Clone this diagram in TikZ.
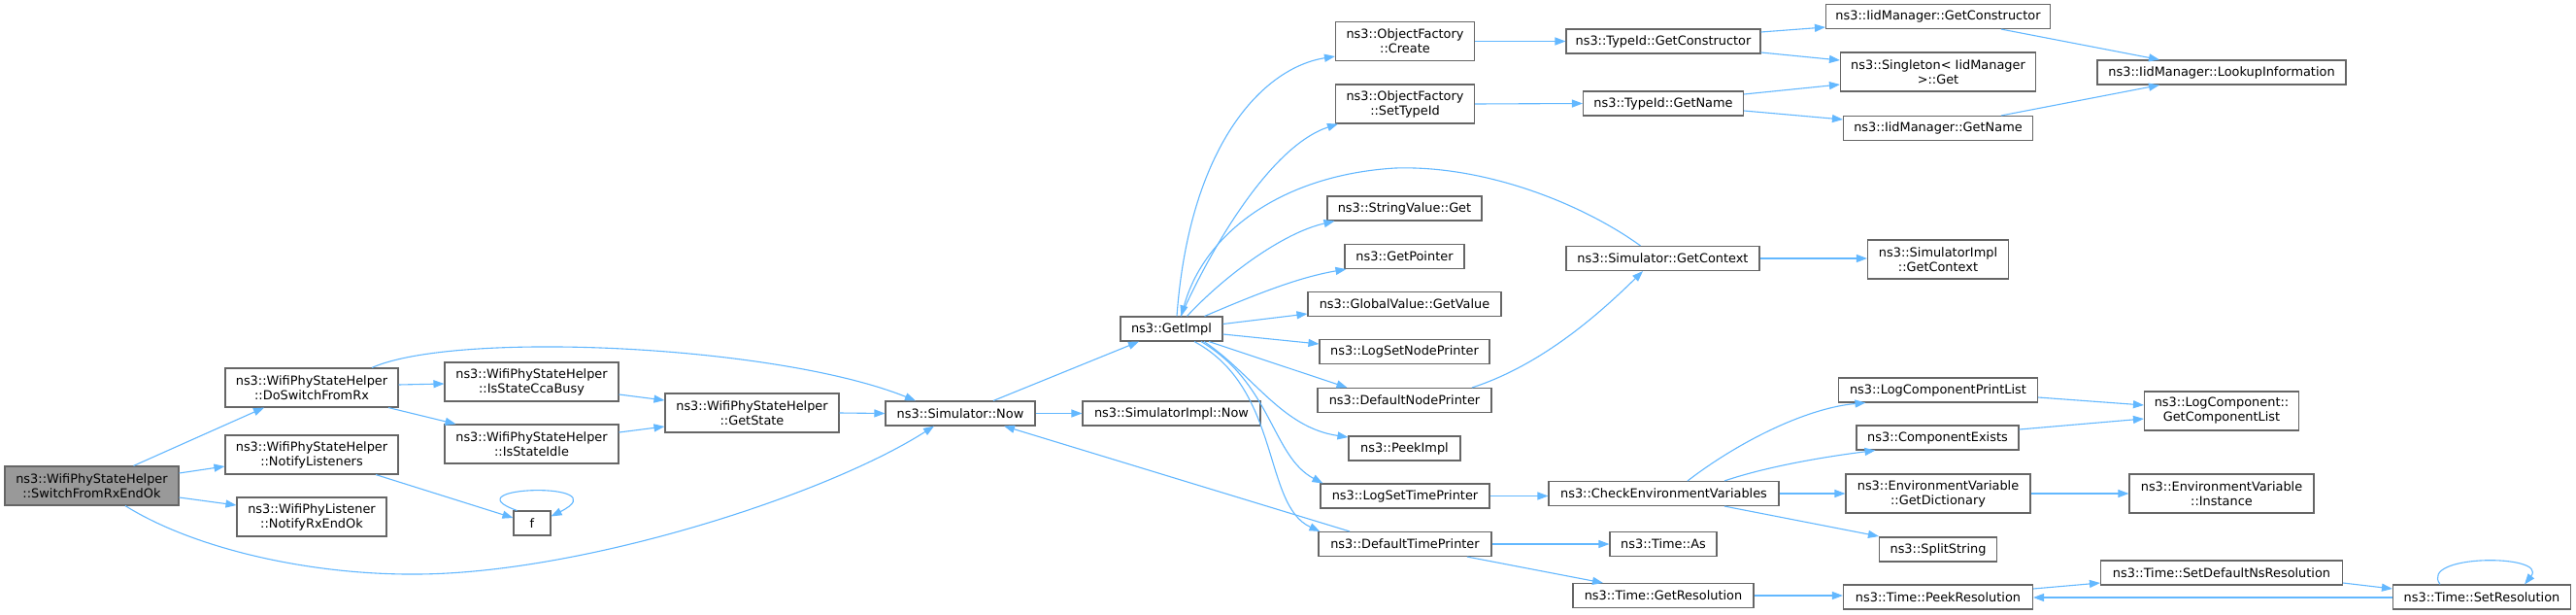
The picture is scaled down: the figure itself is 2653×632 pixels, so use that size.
\documentclass[tikz,border=0pt]{standalone}
\usepackage{fontspec}
\setmainfont{DejaVu Sans}
\usetikzlibrary{arrows.meta}
\definecolor{edgeblue}{HTML}{63B8FF}
\definecolor{bordergray}{HTML}{666666}
\definecolor{rootgray}{HTML}{999999}
\newcommand{\nodefont}{\fontsize{12.9}{15}\selectfont}
\tikzset{
  nd/.style={draw=bordergray, fill=white, line width=1.1pt, inner sep=0pt, align=center, font=\nodefont},
  one/.style={minimum height=25},
  two/.style={minimum height=40},
  edge/.style={draw=edgeblue, line width=1.1pt, -{Triangle[length=11pt,width=8pt]}}
}
\begin{document}
\begin{tikzpicture}[x=1pt,y=-1pt]
\useasboundingbox (0,0) rectangle (2653,632);
\fill[white] (0,0) rectangle (2653,632);
% nodes
\node[nd,two,minimum width=179,fill=rootgray] (root) at (94.5,500) {ns3::WifiPhyStateHelper\\::SwitchFromRxEndOk};
\node[nd,two,minimum width=178] (doswitch) at (321,399) {ns3::WifiPhyStateHelper\\::DoSwitchFromRx};
\node[nd,two,minimum width=178] (notifyL) at (321,468) {ns3::WifiPhyStateHelper\\::NotifyListeners};
\node[nd,two,minimum width=154] (notifyRx) at (321,532) {ns3::WifiPhyListener\\::NotifyRxEndOk};
\node[nd,two,minimum width=179] (cca) at (547.5,393) {ns3::WifiPhyStateHelper\\::IsStateCcaBusy};
\node[nd,two,minimum width=179] (idle) at (547.5,457) {ns3::WifiPhyStateHelper\\::IsStateIdle};
\node[nd,one,minimum width=38] (f) at (548,538.5) {f};
\node[nd,two,minimum width=179] (getstate) at (774.5,425) {ns3::WifiPhyStateHelper\\::GetState};
\node[nd,one,minimum width=154] (now) at (989,425.5) {ns3::Simulator::Now};
\node[nd,one,minimum width=183] (simimplnow) at (1206.5,425.5) {ns3::SimulatorImpl::Now};
\node[nd,one,minimum width=105] (getimpl) at (1206.5,338.5) {ns3::GetImpl};
\node[nd,two,minimum width=143] (create) at (1447,42.5) {ns3::ObjectFactory\\::Create};
\node[nd,two,minimum width=143] (settypeid) at (1447,107) {ns3::ObjectFactory\\::SetTypeId};
\node[nd,one,minimum width=159] (stringget) at (1446.5,214.5) {ns3::StringValue::Get};
\node[nd,one,minimum width=123] (getpointer) at (1446.5,264) {ns3::GetPointer};
\node[nd,one,minimum width=199] (globalvalue) at (1446.5,313) {ns3::GlobalValue::GetValue};
\node[nd,one,minimum width=175] (lognode) at (1446.5,362) {ns3::LogSetNodePrinter};
\node[nd,one,minimum width=179] (defnode) at (1446.5,412) {ns3::DefaultNodePrinter};
\node[nd,one,minimum width=115] (peekimpl) at (1446.5,461.5) {ns3::PeekImpl};
\node[nd,one,minimum width=174] (logtime) at (1447,510.5) {ns3::LogSetTimePrinter};
\node[nd,one,minimum width=178] (deftime) at (1447,560) {ns3::DefaultTimePrinter};
\node[nd,one,minimum width=200] (tidctor) at (1713,42.5) {ns3::TypeId::GetConstructor};
\node[nd,one,minimum width=165] (tidname) at (1713,106.5) {ns3::TypeId::GetName};
\node[nd,one,minimum width=199] (getcontext) at (1712.5,266) {ns3::Simulator::GetContext};
\node[nd,one,minimum width=237] (checkenv) at (1713.5,508) {ns3::CheckEnvironmentVariables};
\node[nd,one,minimum width=110] (timeas) at (1713,560) {ns3::Time::As};
\node[nd,one,minimum width=186] (getres) at (1713,613) {ns3::Time::GetResolution};
\node[nd,one,minimum width=231] (iidctor) at (1996,17) {ns3::IidManager::GetConstructor};
\node[nd,two,minimum width=201] (singleton) at (1996,74) {ns3::Singleton< IidManager\\ >::Get};
\node[nd,one,minimum width=195] (iidname) at (1996,132) {ns3::IidManager::GetName};
\node[nd,one,minimum width=256] (lookup) at (2288,74.5) {ns3::IidManager::LookupInformation};
\node[nd,two,minimum width=145] (simimplctx) at (1996,267) {ns3::SimulatorImpl\\::GetContext};
\node[nd,one,minimum width=205] (logprint) at (1996,401.5) {ns3::LogComponentPrintList};
\node[nd,one,minimum width=167] (compexists) at (1995.5,450.5) {ns3::ComponentExists};
\node[nd,two,minimum width=190] (getdict) at (1996,508) {ns3::EnvironmentVariable\\::GetDictionary};
\node[nd,one,minimum width=121] (splitstring) at (1996,565.5) {ns3::SplitString};
\node[nd,one,minimum width=195] (peekres) at (1996,614.5) {ns3::Time::PeekResolution};
\node[nd,two,minimum width=159] (getcomplist) at (2288,423) {ns3::LogComponent::\\GetComponentList};
\node[nd,two,minimum width=190] (envinstance) at (2288,508) {ns3::EnvironmentVariable\\::Instance};
\node[nd,one,minimum width=249] (setdefns) at (2288,589.5) {ns3::Time::SetDefaultNsResolution};
\node[nd,one,minimum width=183] (setres) at (2556,614.5) {ns3::Time::SetResolution};
% edges
\draw[edge] ([xshift=43]root.north) -- ([xshift=-49]doswitch.south);
\draw[edge] ([yshift=13]root.east) -- ([yshift=-12]notifyL.west);
\draw[edge] ([yshift=-12]root.east) -- ([yshift=12]notifyRx.west);
\draw[edge] ([xshift=34.5]root.south) .. controls (200,565) and (320,592) .. (430,591) .. controls (600,590) and (850,510) .. ([xshift=-27]now.south);
\draw[edge] ([yshift=3]doswitch.east) -- ([yshift=-2]cca.west);
\draw[edge] ([xshift=79]doswitch.south) -- ([xshift=-78]idle.north);
\draw[edge] ([xshift=62]doswitch.north) .. controls (470,340) and (800,355) .. ([xshift=-46]now.north);
\draw[edge] ([xshift=66]notifyL.south) -- ([yshift=5.5]f.west);
\draw[edge] ([xshift=4]f.north west) .. controls (460,500) and (640,495) .. ([yshift=-6]f.north east);
\draw[edge] ([yshift=-13]cca.east) -- ([yshift=13]getstate.west);
\draw[edge] ([yshift=12]idle.east) -- ([yshift=-14]getstate.west);
\draw[edge] (getstate.east) -- (now.west);
\draw[edge] ([xshift=34]now.north) -- ([xshift=-33.5]getimpl.south);
\draw[edge] (now.east) -- (simimplnow.west);
\draw[edge] ([xshift=5.5]getimpl.north) .. controls (1225,150) and (1300,70) .. ([yshift=-15.5]create.west);
\draw[edge] ([xshift=9.5]getimpl.north) .. controls (1250,250) and (1310,150) .. ([xshift=3]settypeid.south west);
\draw[edge] ([xshift=-23]getcontext.north) .. controls (1630,210) and (1530,170) .. (1437,173) .. controls (1320,180) and (1240,240) .. ([xshift=10]getimpl.north);
\draw[edge] ([xshift=16]getimpl.north) .. controls (1260,285) and (1320,240) .. ([xshift=8]stringget.south west);
\draw[edge] ([xshift=34]getimpl.north) .. controls (1300,300) and (1340,285) .. ([xshift=2]getpointer.south west);
\draw[edge] ([yshift=5]getimpl.east) -- ([yshift=-10]globalvalue.west);
\draw[edge] ([yshift=-5.5]getimpl.east) -- ([yshift=8]lognode.west);
\draw[edge] ([xshift=38.5]getimpl.south) -- ([xshift=31]defnode.north west);
\draw[edge] ([xshift=33.5]getimpl.south) .. controls (1290,385) and (1320,440) .. ([yshift=11.5]peekimpl.west);
\draw[edge] ([xshift=30.5]getimpl.south) .. controls (1310,395) and (1310,470) .. ([xshift=3]logtime.north west);
\draw[edge] ([xshift=23.5]getimpl.south) .. controls (1320,400) and (1300,520) .. ([xshift=2]deftime.north west);
\draw[edge] (create.east) -- (tidctor.west);
\draw[edge] (settypeid.east) -- (tidname.west);
\draw[edge] ([yshift=9.5]tidctor.east) -- ([yshift=-11]iidctor.west);
\draw[edge] ([yshift=-11.5]tidctor.east) -- ([yshift=12]singleton.west);
\draw[edge] ([yshift=9.5]tidname.east) -- ([yshift=-13]singleton.west);
\draw[edge] ([yshift=-7.5]tidname.east) -- ([yshift=9]iidname.west);
\draw[edge] ([xshift=65]iidctor.south) -- ([xshift=-64]lookup.north);
\draw[edge] ([xshift=65]iidname.north) -- ([xshift=-64]lookup.south);
\draw[edge] (getcontext.east) -- (getcontext.east -| simimplctx.west);
\draw[edge] ([xshift=69.5]defnode.north) .. controls (1590,375) and (1650,320) .. ([xshift=-20.5]getcontext.south);
\draw[edge] ([xshift=-57]deftime.north) -- ([xshift=45]now.south);
\draw[edge] (logtime.east) -- (logtime.east -| checkenv.west);
\draw[edge] (deftime.east) -- (timeas.west);
\draw[edge] ([xshift=64]deftime.south) -- ([xshift=-62]getres.north);
\draw[edge] ([xshift=24.5]checkenv.north) .. controls (1790,455) and (1860,420) .. ([xshift=28.5]logprint.south west);
\draw[edge] ([xshift=62.5]checkenv.north) .. controls (1820,480) and (1880,470) .. ([xshift=20]compexists.south west);
\draw[edge] (checkenv.east) -- (getdict.west);
\draw[edge] ([xshift=62.5]checkenv.south) -- ([yshift=13.5]splitstring.west);
\draw[edge] ([yshift=-7.5]logprint.east) -- ([yshift=6]getcomplist.west);
\draw[edge] ([yshift=8.5]compexists.east) -- ([yshift=-8]getcomplist.west);
\draw[edge] (getdict.east) -- (envinstance.west);
\draw[edge] (getres.east) -- (getres.east -| peekres.west);
\draw[edge] ([yshift=8.5]peekres.east) -- ([yshift=-10.5]setdefns.west);
\draw[edge] ([yshift=-10.5]setdefns.east) -- ([yshift=8.5]setres.west);
\draw[edge] ([yshift=-0.5]setres.west) -- ([yshift=-0.5]peekres.east);
\draw[edge] ([xshift=-43]setres.north) .. controls (2490,570) and (2625,570) .. ([xshift=44]setres.north);
\end{tikzpicture}
\end{document}
